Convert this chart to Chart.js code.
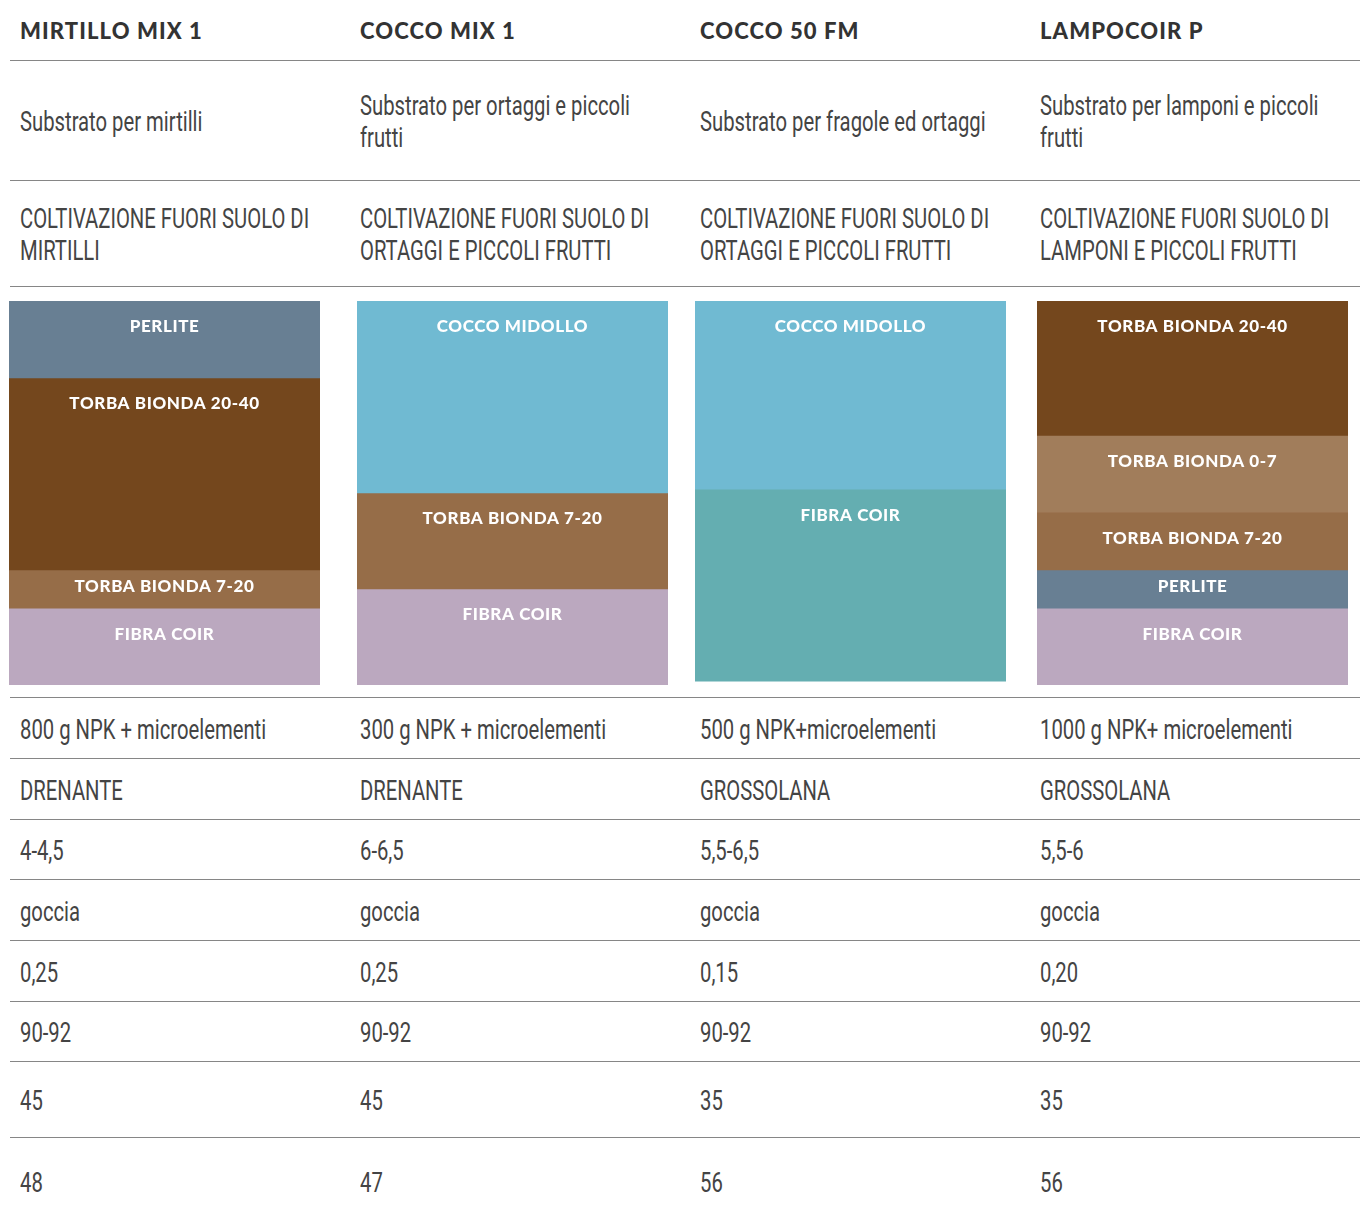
<!DOCTYPE html>
<html>
<head>
<meta charset="utf-8">
<script src="https://cdn.jsdelivr.net/npm/chart.js@4.4.0/dist/chart.umd.min.js"></script>
<style>
  html, body { margin: 0; padding: 0; background: #fff; }
  body { width: 1360px; height: 1214px; overflow: hidden; position: relative; font-family: Roboto, sans-serif; color: #444; }
  .row { position: absolute; left: 10px; width: 1350px; box-sizing: border-box; border-bottom: 1px solid #868686; }
  .row.last { border-bottom: none; }
  .cell { position: absolute; top: 0; bottom: 0; display: flex; align-items: center; padding-top: 3px; box-sizing: border-box; }
  .txt { width: 400px; transform: scaleX(0.75); transform-origin: left center; font-weight: 400; font-size: 27px; line-height: 32px; }
  .head .cell { padding-top: 2px; }
  .head .txt { transform: none; width: 320px; font-family: Lato, sans-serif; font-weight: 900; font-size: 22px; letter-spacing: 1.1px; color: #333; }
  .bar { position: absolute; width: 311px; height: 384px; }
</style>
</head>
<body>
<script>
// products (columns)
const products = ['MIRTILLO MIX 1', 'COCCO MIX 1', 'COCCO 50 FM', 'LAMPOCOIR P'];
const usages = ['Substrato per mirtilli', 'Substrato per ortaggi e piccoli frutti', 'Substrato per fragole ed ortaggi', 'Substrato per lamponi e piccoli frutti'];
const crops = ['COLTIVAZIONE FUORI SUOLO DI MIRTILLI', 'COLTIVAZIONE FUORI SUOLO DI ORTAGGI E PICCOLI FRUTTI', 'COLTIVAZIONE FUORI SUOLO DI ORTAGGI E PICCOLI FRUTTI', 'COLTIVAZIONE FUORI SUOLO DI LAMPONI E PICCOLI FRUTTI'];
const fertilizers = ['800 g NPK + microelementi', '300 g NPK + microelementi', '500 g NPK+microelementi', '1000 g NPK+ microelementi'];
const structures = ['DRENANTE', 'DRENANTE', 'GROSSOLANA', 'GROSSOLANA'];
const phRanges = ['4-4,5', '6-6,5', '5,5-6,5', '5,5-6'];
const irrigation = ['goccia', 'goccia', 'goccia', 'goccia'];
const ecValues = ['0,25', '0,25', '0,15', '0,20'];
const porosity = ['90-92', '90-92', '90-92', '90-92'];
const airCapacity = ['45', '45', '35', '35'];
const waterCapacity = ['48', '47', '56', '56'];

// composition of each substrate, top to bottom (% volume)
const mirtilloLayers = ['PERLITE', 'TORBA BIONDA 20-40', 'TORBA BIONDA 7-20', 'FIBRA COIR'];
const mirtilloShares = [20, 50, 10, 20];
const coccoMixLayers = ['COCCO MIDOLLO', 'TORBA BIONDA 7-20', 'FIBRA COIR'];
const coccoMixShares = [50, 25, 25];
const cocco50Layers = ['COCCO MIDOLLO', 'FIBRA COIR'];
const cocco50Shares = [49, 50];
const lampocoirLayers = ['TORBA BIONDA 20-40', 'TORBA BIONDA 0-7', 'TORBA BIONDA 7-20', 'PERLITE', 'FIBRA COIR'];
const lampocoirShares = [35, 20, 15, 10, 20];

const compositions = [
  [mirtilloLayers, mirtilloShares],
  [coccoMixLayers, coccoMixShares],
  [cocco50Layers, cocco50Shares],
  [lampocoirLayers, lampocoirShares]
];

const layerColors = {
  'PERLITE': '#687f93',
  'TORBA BIONDA 20-40': '#74471d',
  'TORBA BIONDA 7-20': '#966d48',
  'TORBA BIONDA 0-7': '#a17d5b',
  'FIBRA COIR': '#bba8bf',
  'COCCO MIDOLLO': '#70bad2'
};
const colorFor = (col, layer) => (col === 2 && layer === 'FIBRA COIR') ? '#64aeb1' : layerColors[layer];

// table layout
const rowBounds = [0, 61, 181, 287, 698, 759, 820, 880, 941, 1002, 1062, 1138, 1224];
const textRows = [products, usages, crops, null, fertilizers, structures, phRanges, irrigation, ecValues, porosity, airCapacity, waterCapacity];
const barLefts = [9, 357, 695, 1037];

textRows.forEach((vals, r) => {
  const row = document.createElement('div');
  row.className = 'row' + (r === 0 ? ' head' : '') + (r === textRows.length - 1 ? ' last' : '');
  row.style.top = rowBounds[r] + 'px';
  row.style.height = (rowBounds[r + 1] - rowBounds[r]) + 'px';
  document.body.appendChild(row);
  if (!vals) return;
  vals.forEach((v, c) => {
    const cell = document.createElement('div');
    cell.className = 'cell';
    cell.style.left = (10 + c * 340) + 'px';
    const t = document.createElement('div');
    t.className = 'txt';
    t.textContent = v;
    cell.appendChild(t);
    row.appendChild(cell);
  });
});

const segmentLabels = {
  id: 'segmentLabels',
  afterDatasetsDraw(chart) {
    const ctx = chart.ctx;
    ctx.save();
    ctx.fillStyle = '#ffffff';
    ctx.font = '900 17px Lato';
    ctx.letterSpacing = '0.6px';
    ctx.textAlign = 'center';
    ctx.textBaseline = 'middle';
    chart.data.datasets.forEach((ds, i) => {
      const el = chart.getDatasetMeta(i).data[0];
      const top = Math.min(el.y, el.base);
      const h = Math.abs(el.base - el.y);
      ctx.fillText(ds.label, el.x, top + Math.min(26, h / 2 - 2));
    });
    ctx.restore();
  }
};

compositions.forEach(([layers, shares], c) => {
  const wrap = document.createElement('div');
  wrap.className = 'bar';
  wrap.style.left = barLefts[c] + 'px';
  wrap.style.top = '301px';
  const canvas = document.createElement('canvas');
  wrap.appendChild(canvas);
  document.body.appendChild(wrap);

  new Chart(canvas, {
    type: 'bar',
    data: {
      labels: [products[c]],
      datasets: layers.map((name, j) => ({
        label: name,
        data: [shares[j]],
        backgroundColor: colorFor(c, name),
        borderWidth: 0,
        barPercentage: 1,
        categoryPercentage: 1
      }))
    },
    options: {
      responsive: true,
      maintainAspectRatio: false,
      animation: false,
      layout: { padding: 0 },
      plugins: { legend: { display: false }, tooltip: { enabled: false }, title: { display: false } },
      scales: {
        x: { display: false, stacked: true },
        y: { display: false, stacked: true, reverse: true, min: 0, max: 100 }
      }
    },
    plugins: [segmentLabels]
  });
});
</script>
</body>
</html>
